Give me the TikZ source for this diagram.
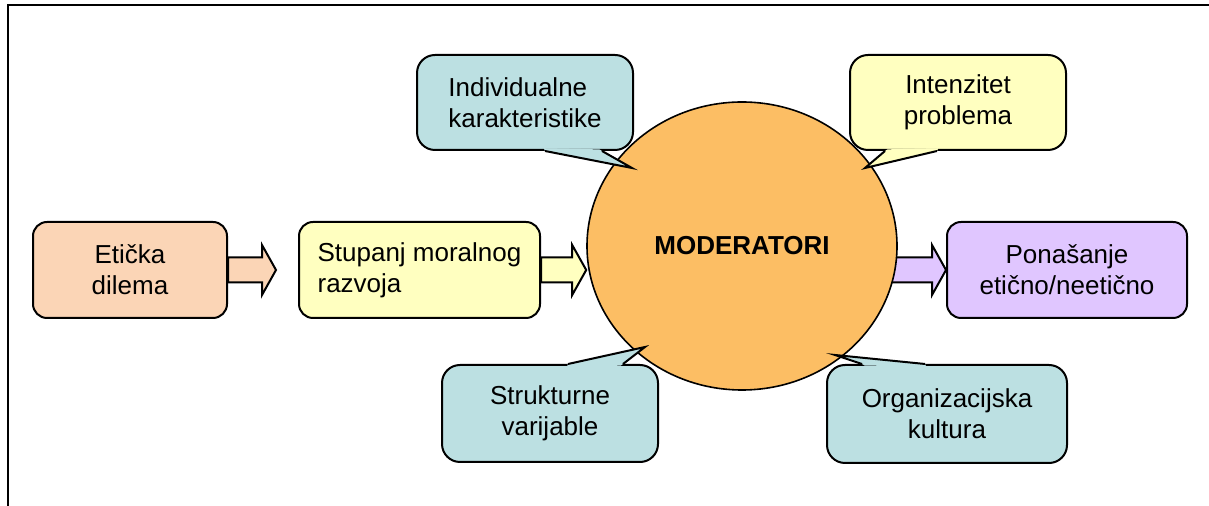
\documentclass[tikz,border=0pt]{standalone}
\usepackage{fontspec}
\setmainfont{Liberation Sans}
\usetikzlibrary{positioning, calc, backgrounds, shapes.geometric}
\definecolor{peach}{RGB}{251,213,182}
\definecolor{yellowc}{RGB}{255,255,192}
\definecolor{purplec}{RGB}{224,198,255}
\definecolor{bluec}{RGB}{188,224,226}
\definecolor{orangec}{RGB}{252,190,100}
\tikzset{
every node/.style={font=\fontsize{13}{15.5}\selectfont}, % Arial-like text everywhere
box/.style={draw, line width=1pt, rounded corners=7pt, minimum width=97pt, minimum height=48pt, align=center}, % the three boxes on the middle row
bubble/.style={draw, line width=1pt, rounded corners=9pt, minimum width=108pt, minimum height=47.5pt, align=center}, % body of a speech bubble
moderator/.style={draw, line width=0.8pt, fill=orangec, ellipse, minimum width=155pt, minimum height=144pt, font=\fontsize{13}{15.5}\selectfont\bfseries},
fat/.style={fill=#1, line width=1pt, to path={
    let \p1=(\tikztostart), \p2=(\tikztotarget) in
    (\x1,\y1+6.25pt) -- (\x2-7pt,\y1+6.25pt) -- (\x2-7pt,\y1+12.5pt) -- (\x2,\y1)
    -- (\x2-7pt,\y1-12.5pt) -- (\x2-7pt,\y1-6.25pt) -- (\x1,\y1-6.25pt) -- cycle}}, % hollow block arrow
}
% tail of a speech bubble: body, colour, side, two base offsets, tip
\newcommand{\bubbletail}[6]{%
  \coordinate (ta) at ($(#1.#3)+(#4,0)$);
  \coordinate (tb) at ($(#1.#3)+(#5,0)$);
  \fill[#2] ($(ta)!1.5pt!(#1.center)$) -- (ta) -- (#6) -- (tb) -- ($(tb)!1.5pt!(#1.center)$) -- cycle;
  \draw[line width=1pt] (ta) -- (#6) -- (tb);
}

\begin{document}
\begin{tikzpicture}[x=0.5pt, y=-0.5pt]
    \useasboundingbox (0,0) rectangle (1209,506);
    \draw[line width=1pt] (8,506) -- (8,5) -- (1209,5);

    \node[box, fill=peach] (dilema) at (130,270) {Etička\\dilema};
    \node[box, fill=yellowc, minimum width=120.5pt, align=left, right=35pt of dilema] (stupanj) {Stupanj moralnog\\razvoja};
    \node[moderator] (mod) at (742,246) {MODERATORI};
    \node[box, fill=purplec, minimum width=120pt] (ponasanje) at (1067,270) {Ponašanje\\etično/neetično};

    \coordinate[right=24pt of dilema.east] (tip1);
    \begin{scope}[on background layer]
        \draw[fat=peach] (dilema.east) to (tip1);
        \draw[fat=yellowc] (stupanj.east) to (stupanj.east -| mod.west);
        \draw[fat=purplec] (ponasanje.west -| mod.center) to (ponasanje.west);
    \end{scope}

    \node[bubble, fill=bluec, align=left] (indiv) at (525,102.5) {Individualne\\karakteristike};
    \node[bubble, fill=yellowc] (intenz) at (958,102.5) {Intenzitet\\problema};
    \node[bubble, fill=bluec, minimum height=48.5pt] (strukt) at (550,413.5) {Strukturne\\varijable};
    \node[bubble, fill=bluec, minimum width=120pt, minimum height=49pt] (org) at (947,414) {Organizacijska\\kultura};

    \coordinate (tipI) at (632,168);
    \coordinate (tipP) at (865,168);
    \coordinate (tipS) at (645,347);
    \coordinate (tipO) at (835,355);
    \bubbletail{indiv}{bluec}{south}{20}{77}{tipI}
    \bubbletail{intenz}{yellowc}{south}{-73}{-21}{tipP}
    \bubbletail{strukt}{bluec}{north}{18}{73}{tipS}
    \bubbletail{org}{bluec}{north}{-85}{-22}{tipO}
\end{tikzpicture}
\end{document}
